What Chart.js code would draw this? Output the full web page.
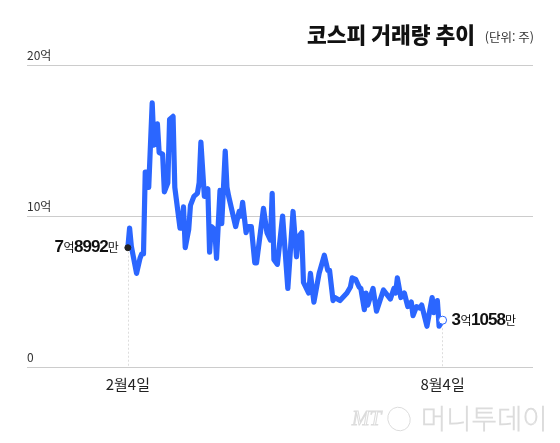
<!DOCTYPE html>
<html lang="ko">
<head>
<meta charset="utf-8">
<title>코스피 거래량 추이</title>
<script src="https://cdn.jsdelivr.net/npm/chart.js@4"></script>
<style>
    html, body { margin: 0; padding: 0; background: #fff; }
    canvas { display: block; }
</style>
</head>
<body>
<canvas id="volumeChart" width="560" height="443"></canvas>
<script>
// days since 2월4일 / volume in 억주
const days = [0, 1, 2, 5, 7, 8, 9, 10, 11, 12, 14, 15, 17, 18, 20, 21, 23, 24, 26, 27,
    30, 31, 32, 33, 35, 36, 38, 40, 41, 42, 44, 46, 47, 48, 50, 51, 53, 54, 56, 57,
    58, 62, 64, 65, 66, 68, 69, 71, 73, 74, 78, 80, 82, 83, 84, 86, 89, 92, 95, 97,
    98, 100, 101, 104, 105, 107, 110, 113, 115, 116, 118, 119, 122, 126, 128, 129, 131, 133, 134, 136,
    137, 138, 141, 143, 147, 151, 153, 154, 155, 157, 159, 161, 163, 164, 166, 168, 169, 172, 175, 176,
    178, 179, 181];
const volumes = [7.9, 9.2, 8.0, 6.2, 7.2, 7.5, 7.5, 12.9, 12.9, 11.9, 17.5, 14.7, 16.1, 14.2, 14.1, 11.6, 12.2, 16.4, 16.6, 11.9,
    9.2, 9.2, 10.6, 7.9, 9.1, 10.7, 11.3, 11.5, 12.2, 14.9, 11.3, 11.8, 7.6, 9.3, 9.1, 7.2, 11.7, 9.5, 14.3, 11.9,
    11.3, 9.3, 10.3, 10.0, 10.9, 8.9, 9.3, 9.3, 6.9, 6.9, 10.5, 8.9, 8.4, 11.5, 7.1, 6.8, 10.0, 5.2, 10.3, 7.3,
    8.6, 8.9, 5.6, 4.9, 6.2, 4.3, 6.2, 7.4, 6.4, 6.4, 4.4, 4.6, 4.4, 4.9, 5.3, 5.9, 5.8, 5.3, 5.2, 3.8,
    4.9, 4.1, 5.2, 3.7, 5.1, 4.5, 5.2, 4.9, 5.9, 4.6, 4.9, 4.0, 4.3, 3.4, 4.0, 3.9, 4.1, 2.7, 4.6, 3.6,
    4.4, 2.7, 3.1];
const xTickDays = [0, 181];
const xTickLabels = ["2월4일", "8월4일"];
const yTickValues = [0, 10, 20];
const yTickLabels = ["0", "10억", "20억"];

const KR = '"Noto Sans CJK KR", sans-serif';
const LATIN = '"Liberation Sans", "Noto Sans CJK KR", sans-serif';
const points = days.map((d, i) => ({ x: d, y: volumes[i] }));
const lastIndex = points.length - 1;

// mixed weight label: big bold digits, small thin hangul
const drawRuns = (ctx, runs, x, y, align) => {
    ctx.textBaseline = "middle";
    ctx.textAlign = "left";
    let total = 0;
    runs.forEach((run) => {
        ctx.font = run[1];
        ctx.letterSpacing = run[2];
        total += ctx.measureText(run[0]).width;
    });
    let cx = align === "right" ? x - total : x;
    runs.forEach((run) => {
        ctx.font = run[1];
        ctx.letterSpacing = run[2];
        ctx.fillStyle = "#111";
        ctx.fillText(run[0], cx, y);
        cx += ctx.measureText(run[0]).width;
    });
    ctx.letterSpacing = "0px";
};

const big = `bold 17px ${LATIN}`;
const small = `12px ${KR}`;

const backdrop = {
    id: "backdrop",
    beforeDatasetsDraw(chart) {
        const { ctx, scales } = chart;
        ctx.save();
        ctx.strokeStyle = "#dddddd";
        ctx.lineWidth = 1;
        ctx.setLineDash([2, 2]);
        [0, lastIndex].forEach((i) => {
            const px = Math.round(scales.x.getPixelForValue(days[i])) + (i === 0 ? 0.5 : -0.5);
            ctx.beginPath();
            ctx.moveTo(px, scales.y.getPixelForValue(volumes[i]));
            ctx.lineTo(px, scales.y.getPixelForValue(0));
            ctx.stroke();
        });
        ctx.restore();
    },
    afterDraw(chart) {
        const { ctx, scales } = chart;
        const first = scales.x.getPixelForValue(days[0]);
        const last = scales.x.getPixelForValue(days[lastIndex]);
        ctx.save();
        drawRuns(ctx, [["7", big, "-0.5px"], ["억", small, "-0.5px"], ["8992", big, "-1px"], ["만", small, "0px"]],
            first - 9, scales.y.getPixelForValue(volumes[0]), "right");
        drawRuns(ctx, [["3", big, "-0.5px"], ["억", small, "-0.5px"], ["1058", big, "-1px"], ["만", small, "0px"]],
            last + 9, scales.y.getPixelForValue(volumes[lastIndex]), "left");

        // title
        ctx.fillStyle = "#111";
        ctx.textBaseline = "middle";
        ctx.textAlign = "right";
        ctx.font = `900 21.5px ${KR}`;
        ctx.fillText("코스피 거래량 추이", 475, 35);
        ctx.font = `12.5px ${KR}`;
        ctx.fillStyle = "#333";
        ctx.fillText("(단위: 주)", 534, 37);

        // watermark
        ctx.strokeStyle = "#dcdcdc";
        ctx.lineWidth = 1;
        ctx.textAlign = "left";
        ctx.font = `italic 21px "Liberation Serif", serif`;
        ctx.strokeText("MT", 352, 419);
        ctx.beginPath();
        ctx.ellipse(399, 419, 11, 12, -0.5, 0, Math.PI * 2);
        ctx.stroke();
        ctx.font = `100 27.5px ${KR}`;
        ctx.strokeText("머니투데이", 421, 419);
        ctx.restore();
    },
};

new Chart(document.getElementById("volumeChart").getContext("2d"), {
    type: "line",
    data: {
        datasets: [
            {
                data: points,
                borderColor: "#2b66ff",
                borderWidth: 5.2,
                borderJoinStyle: "round",
                borderCapStyle: "round",
                tension: 0,
                pointRadius: (c) => (c.dataIndex === 0 ? 3 : c.dataIndex === lastIndex ? 4 : 0),
                pointBackgroundColor: (c) => (c.dataIndex === 0 ? "#222" : "#fff"),
                pointBorderColor: (c) => (c.dataIndex === 0 ? "#222" : "#2b66ff"),
                pointBorderWidth: 1,
            },
        ],
    },
    options: {
        responsive: false,
        animation: false,
        devicePixelRatio: 1,
        layout: { padding: { left: 27, right: 27, top: 65, bottom: 0 } },
        plugins: {
            legend: { display: false },
            tooltip: { enabled: false },
        },
        scales: {
            x: {
                type: "linear",
                min: -58,
                max: 233,
                grid: { display: false },
                border: { display: false },
                afterBuildTicks: (scale) => {
                    scale.ticks = xTickDays.map((value) => ({ value }));
                },
                afterFit: (scale) => {
                    scale.height = 76;
                },
                ticks: {
                    autoSkip: false,
                    maxRotation: 0,
                    padding: 0,
                    color: "#222",
                    font: { family: KR, size: 15 },
                    callback: (value) => xTickLabels[xTickDays.indexOf(value)],
                },
            },
            y: {
                min: 0,
                max: 20,
                grid: { color: "#cccccc", drawTicks: false },
                border: { display: false },
                afterBuildTicks: (scale) => {
                    scale.ticks = yTickValues.map((value) => ({ value }));
                },
                afterFit: (scale) => {
                    scale.width = 0;
                },
                ticks: {
                    mirror: true,
                    padding: 0,
                    labelOffset: -10,
                    color: "#333",
                    font: { family: KR, size: 12 },
                    callback: (value) => yTickLabels[yTickValues.indexOf(value)],
                },
            },
        },
    },
    plugins: [backdrop],
});
</script>
</body>
</html>
